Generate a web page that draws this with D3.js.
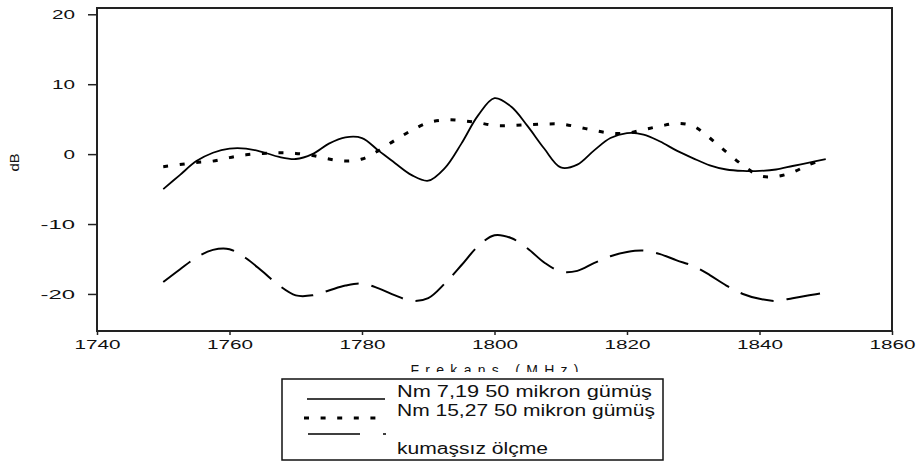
<!DOCTYPE html>
<html>
<head>
<meta charset="utf-8">
<script src="https://cdn.jsdelivr.net/npm/d3@7"></script>
<style>
  body { margin: 0; background: #fff; }
  svg text { font-family: "Liberation Sans", Arial, sans-serif; fill: #111; }
</style>
</head>
<body>
<div id="chart"></div>
<script>
// data -----------------------------------------------------

// frequency grid (MHz), 2.5 MHz step
var freqs = d3.range(1750, 1850.01, 2.5);

// Nm 7,19 50 mikron gümüş (solid)
var nm719 = [-5.0, -3.0, -1.0, 0.2, 0.8, 0.8, 0.3, -0.4, -0.7, 0.0,
  1.5, 2.4, 2.3, 0.5, -1.3, -3.0, -3.8, -2.0, 1.5, 5.5,
  8.0, 6.8, 4.0, 0.8, -1.9, -1.5, 0.5, 2.3, 3.0, 2.8,
  1.8, 0.5, -0.6, -1.6, -2.2, -2.4, -2.4, -2.2, -1.7, -1.2, -0.7];

// Nm 15,27 50 mikron gümüş (dotted)
var nm1527 = [-1.8, -1.5, -1.2, -1.0, -0.5, -0.1, 0.1, 0.2, 0.1, -0.2,
  -0.7, -1.0, -0.7, 0.5, 2.0, 3.4, 4.5, 4.9, 4.8, 4.5,
  4.1, 4.1, 4.2, 4.3, 4.3, 3.9, 3.4, 3.0, 3.0, 3.5,
  4.0, 4.4, 4.0, 2.3, 0.3, -1.6, -3.1, -3.2, -2.6, -1.5, -0.7];

// kumaşsız ölçme (long dash)
var kumassiz = [-18.3, -16.5, -14.8, -13.7, -13.6, -14.9, -16.8, -18.8, -20.2, -20.2,
  -19.5, -18.8, -18.5, -19.2, -20.2, -21.0, -20.6, -18.5, -15.9, -13.2,
  -11.6, -12.0, -13.5, -15.5, -16.8, -16.7, -15.6, -14.6, -14.0, -13.8,
  -14.3, -15.2, -16.0, -17.3, -18.8, -20.0, -20.7, -21.0, -20.6, -20.2, -19.8];

var xTicks = [1740, 1760, 1780, 1800, 1820, 1840, 1860];
var yTicks = [-20, -10, 0, 10, 20];

var legendLabels = ['Nm 7,19  50 mikron gümüş', 'Nm 15,27 50 mikron gümüş', 'kumaşsız ölçme'];

// layout ----------------------------------------------------
var width = 922, height = 462;
var plot = { left: 97, right: 892, top: 8, bottom: 331 };

var svg = d3.select('#chart').append('svg')
  .attr('width', width)
  .attr('height', height);

var x = d3.scaleLinear().domain([1740, 1860]).range([plot.left, plot.right]);
var y = d3.scaleLinear().domain([-25.3, 20.9]).range([plot.bottom, plot.top]);

// plain hyphen for negatives, like the original
var fmt = function (d) { return String(d); };

// axes (ticks only, frame drawn after)
var xAxis = svg.append('g')
  .attr('transform', 'translate(0,' + plot.bottom + ')')
  .call(d3.axisBottom(x).tickValues(xTicks).tickSize(4).tickSizeOuter(0).tickFormat(fmt));
xAxis.select('.domain').remove();
xAxis.selectAll('line').attr('stroke', '#222').attr('stroke-width', 1.5);
xAxis.selectAll('text')
  .attr('y', 18)
  .attr('dy', 0)
  .attr('font-size', 12.5)
  .attr('textLength', 46)
  .attr('lengthAdjust', 'spacingAndGlyphs');

var yAxis = svg.append('g')
  .attr('transform', 'translate(' + plot.left + ',0)')
  .call(d3.axisLeft(y).tickValues(yTicks).tickSize(9).tickSizeOuter(0).tickFormat(fmt));
yAxis.select('.domain').remove();
yAxis.selectAll('line').attr('stroke', '#222').attr('stroke-width', 1.5);
yAxis.selectAll('text')
  .attr('x', -22)
  .attr('dy', '0.36em')
  .attr('font-size', 12.5)
  .attr('textLength', function (d) { return String(d).length * 11.5; })
  .attr('lengthAdjust', 'spacingAndGlyphs');

// frame
svg.append('rect')
  .attr('x', plot.left)
  .attr('y', plot.top)
  .attr('width', plot.right - plot.left)
  .attr('height', plot.bottom - plot.top)
  .attr('fill', 'none')
  .attr('stroke', '#222')
  .attr('stroke-width', 2);

// axis titles
svg.append('text')
  .attr('transform', 'translate(19,' + y(-1.2) + ') rotate(-90)')
  .attr('text-anchor', 'middle')
  .attr('font-size', 13)
  .attr('textLength', 18)
  .attr('lengthAdjust', 'spacingAndGlyphs')
  .text('dB');

svg.append('clipPath').attr('id', 'titleClip')
  .append('rect').attr('x', 0).attr('y', 340).attr('width', width).attr('height', 32);

svg.append('text')
  .attr('clip-path', 'url(#titleClip)')
  .attr('x', x(1800))
  .attr('y', 375)
  .attr('text-anchor', 'middle')
  .attr('font-size', 14)
  .attr('textLength', 168)
  .attr('lengthAdjust', 'spacing')
  .text('Frekans (MHz)');

// series ----------------------------------------------------
var line = d3.line()
  .x(function (d, i) { return x(freqs[i]); })
  .y(function (d) { return y(d); })
  .curve(d3.curveCatmullRom);

var series = [
  { values: nm719, width: 1.8, dash: null },
  { values: nm1527, width: 3, dash: '5,11.6' },
  { values: kumassiz, width: 2, dash: '34,13' }
];

svg.append('g').selectAll('path')
  .data(series)
  .enter()
  .append('path')
  .attr('d', function (d) { return line(d.values); })
  .attr('fill', 'none')
  .attr('stroke', '#000')
  .attr('stroke-width', function (d) { return d.width; })
  .attr('stroke-dasharray', function (d) { return d.dash; });

// legend ----------------------------------------------------
var legend = svg.append('g');

legend.append('rect')
  .attr('x', 282)
  .attr('y', 379)
  .attr('width', 381)
  .attr('height', 81)
  .attr('fill', '#fff')
  .attr('stroke', '#111')
  .attr('stroke-width', 1.5);

legend.append('line')
  .attr('x1', 307).attr('x2', 385).attr('y1', 399).attr('y2', 399)
  .attr('stroke', '#000').attr('stroke-width', 1.5);

legend.append('line')
  .attr('x1', 304).attr('x2', 386).attr('y1', 418).attr('y2', 418)
  .attr('stroke', '#000').attr('stroke-width', 3)
  .attr('stroke-dasharray', '5,11.6');

legend.append('line')
  .attr('x1', 308).attr('x2', 386).attr('y1', 434).attr('y2', 434)
  .attr('stroke', '#000').attr('stroke-width', 1.5)
  .attr('stroke-dasharray', '52,23,3,100');

var legendY = [397, 416, 454];
var legendW = [255, 258, 151];

legend.selectAll('text.lbl')
  .data(legendLabels)
  .enter()
  .append('text')
  .attr('class', 'lbl')
  .attr('x', 397)
  .attr('y', function (d, i) { return legendY[i]; })
  .attr('font-size', 16)
  .attr('textLength', function (d, i) { return legendW[i]; })
  .attr('lengthAdjust', 'spacingAndGlyphs')
  .text(function (d) { return d; });
</script>
</body>
</html>
